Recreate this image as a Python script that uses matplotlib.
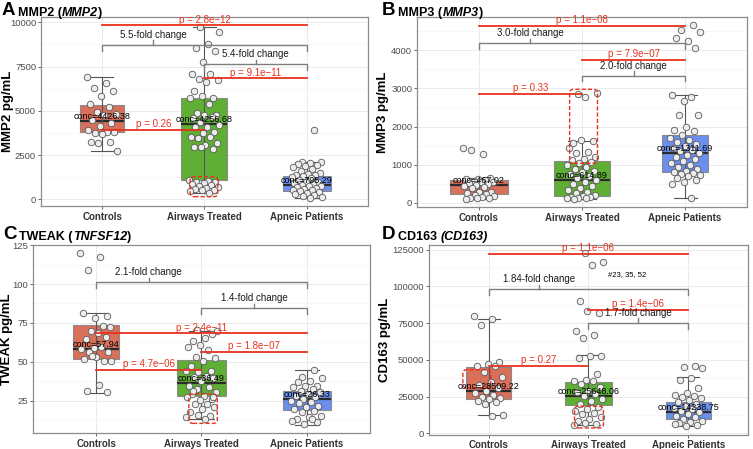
import matplotlib
matplotlib.use("Agg")
import matplotlib.pyplot as plt
import numpy as np
from matplotlib.patches import FancyBboxPatch
from matplotlib.ticker import MultipleLocator

plt.rcParams['font.family'] = ['Liberation Sans', 'DejaVu Sans']

groups = ["Controls", "Airways Treated", "Apneic Patients"]
box_colors = ["#D9705A", "#5EAF34", "#6B8FEF"]

# ---- Panel A: MMP2 ----
mmp2_controls = [6900, 6590, 6310, 6140, 5860, 5370, 5230, 4950, 4800, 4760, 4480, 4330,
                 4140, 3920, 3820, 3770, 3820, 3670, 3260, 3260, 3160, 2750]
mmp2_airways = [9750, 9470, 8750, 8570, 8380, 7780, 7080, 7060, 6820, 6740, 6650, 6100,
                5740, 5840, 5710, 5370, 4860, 4760, 4760, 4580, 4670, 4390, 4200, 4070,
                4100, 3820, 3730, 3540, 3540, 3480, 3200, 3070, 2980, 2840, 2940,
                1100, 1050, 1000, 950, 900, 850, 800, 750, 700, 650, 600, 550, 500, 450, 350]
mmp2_apneic = [3900, 2130, 2100, 2050, 2000, 1950, 1900, 1800, 1700, 1600, 1500, 1450, 1400,
               1350, 1300, 1250, 1200, 1100, 1000, 950, 900, 850, 800, 780, 750, 700, 650,
               600, 550, 500, 450, 400, 350, 300, 250, 200, 150, 100]
mmp2_q1 = [3830, 1100, 490]
mmp2_med = [4426.38, 4256.68, 795.29]
mmp2_q3 = [5350, 5700, 1340]
mmp2_lo = [2750, 380, 60]
mmp2_hi = [6900, 9750, 2130]

# ---- Panel B: MMP3 ----
mmp3_controls = [1450, 1283, 1388, 650, 640, 620, 600, 580, 560, 550, 520, 500, 480, 450,
                 420, 400, 300, 280, 250, 230, 200, 180, 150, 140, 130, 120, 110]
mmp3_airways = [2855, 2873, 2767, 1580, 1615, 1650, 1432, 1345, 1300, 1213, 1144, 1126, 1083,
                1050, 1000, 950, 900, 850, 800, 750, 700, 650, 600, 550, 500, 450, 400,
                350, 300, 250, 200, 180, 160, 150, 140, 130, 120, 110]
mmp3_apneic = [4662, 4531, 4470, 4234, 4313, 4052, 2680, 2828, 2767, 2305, 2305, 2000, 1910,
               1886, 1780, 1700, 1650, 1600, 1550, 1500, 1450, 1400, 1350, 1300, 1250, 1200,
               1150, 1100, 1050, 1000, 950, 900, 850, 800, 780, 750, 720, 700, 650, 600, 550,
               500, 140]
mmp3_q1 = [230, 190, 800]
mmp3_med = [467.02, 614.89, 1311.69]
mmp3_q3 = [600, 1110, 1780]
mmp3_lo = [110, 110, 140]
mmp3_hi = [650, 1633, 2820]

# ---- Panel C: TWEAK ----
tweak_controls = [119.9, 117.6, 109.2, 79.6, 78.1, 81.1, 73.2, 70.0, 72.1, 68.3, 64.6, 65.7,
                  58.9, 58.2, 59.3, 56.1, 56.1, 52.9, 51.8, 50.7, 53.9, 50.7, 35.1, 31.4, 30.4]
tweak_airways = [70.4, 70.0, 65.1, 63.1, 67.9, 61.0, 59.3, 57.6, 52.9, 52.4, 50.7, 47.5, 44.3,
                 43.2, 44.3, 41.1, 40.0, 39.6, 37.9, 34.6, 33.6, 32.5, 30.4, 28.2, 29.3, 26.1,
                 25.4, 27.1, 22.9, 22.9, 21.1, 19.6, 17.5, 15.4, 16.0, 14.3, 13.2, 31.0, 27.5]
tweak_apneic = [44.9, 40.0, 39.4, 37.9, 36.8, 34.6, 34.6, 33.6, 32.5, 31.4, 30.4, 29.3, 28.2,
                27.1, 26.1, 25.0, 23.9, 23.3, 21.8, 21.1, 19.6, 18.6, 17.5, 15.4, 14.7, 13.2,
                11.1, 10.0, 12.1, 13.2]
tweak_q1 = [51.8, 28.0, 19.0]
tweak_med = [57.94, 36.49, 26.33]
tweak_q3 = [73.8, 51.0, 31.0]
tweak_lo = [30.1, 13.2, 9.5]
tweak_hi = [81.1, 70.0, 45.0]

# ---- Panel D: CD163 ----
cd163_controls = [79500, 77500, 73800, 48300, 47200, 46000, 45500, 42000, 38000, 35000, 33000,
                  31000, 29000, 27500, 26000, 25000, 24000, 23000, 22000, 21500, 20000, 12500,
                  12000]
cd163_airways = [123000, 116800, 114500, 89850, 81700, 83000, 69300, 67000, 64700, 52900, 52400,
                 51300, 40400, 36300, 35800, 35400, 33600, 31300, 29000, 27900, 26800, 25600,
                 23400, 22200, 20000, 18200, 16600, 15400, 13600, 13200, 11300, 9800, 8200,
                 6400, 7000, 5900]
cd163_apneic = [46000, 44900, 44200, 37700, 36300, 30900, 27200, 26300, 25600, 24500, 24100,
                22700, 21100, 20000, 18800, 17200, 16600, 15400, 14300, 13200, 12000, 10900,
                9800, 8600, 7500, 6800, 5700, 5200, 6400]
cd163_q1 = [23000, 19500, 10000]
cd163_med = [28509.22, 25648.06, 14238.75]
cd163_q3 = [44800, 35000, 21000]
cd163_lo = [12500, 5900, 5000]
cd163_hi = [77500, 53000, 38000]

# comparisons: (group i, group j, y, label)
mmp2_pvals = [(1, 3, 9830, "p = 2.8e\u221212"), (2, 3, 6835, "p = 9.1e\u221211"), (1, 2, 3917, "p = 0.26")]
mmp2_folds = [(1, 3, 8718, "5.5-fold change"), (2, 3, 7626, "5.4-fold change")]
mmp3_pvals = [(1, 3, 4636, "p = 1.1e\u221208"), (2, 3, 3755, "p = 7.9e\u221207"), (1, 2, 2856, "p = 0.33")]
mmp3_folds = [(1, 3, 4183, "3.0-fold change"), (2, 3, 3335, "2.0-fold change")]
tweak_pvals = [(1, 3, 68.3, "p = 2.4e\u221211"), (2, 3, 56.5, "p = 1.8e\u221207"), (1, 2, 44.9, "p = 4.7e\u221206")]
tweak_folds = [(1, 3, 101.1, "2.1-fold change"), (2, 3, 84.4, "1.4-fold change")]
cd163_pvals = [(1, 3, 122300, "p = 1.1e\u221206"), (2, 3, 84000, "p = 1.4e\u221206"), (1, 2, 45800, "p = 0.27")]
cd163_folds = [(1, 3, 98000, "1.84-fold change"), (2, 3, 75100, "1.7-fold change")]

# highlighted subsets: (x0, x1, y0, y1)
mmp2_boxes = [(1.86, 2.13, 150, 1280)]
mmp3_boxes = [(1.88, 2.15, 1040, 2977)]
tweak_boxes = [(1.88, 2.15, 10.4, 29.3)]
cd163_boxes = [(0.74, 1.02, 30900, 43300), (1.86, 2.15, 3600, 18400)]

RED = "#E8321E"
GRAY = "#7F7F7F"
W, H = 753, 449


def jitter(n, k):
    # deterministic spread of points around the category centre
    return (((np.arange(n) * 0.6180339 + 0.37 * k) % 1.0) - 0.5) * 0.3


def draw_panel(ax, data, q1, med, q3, lo, hi, widths, pvals, folds, boxes,
               ylim, major, ylabel, label_x, letter, letter_xy, name, gene, italic_paren=False):
    stats = []
    for i in range(3):
        stats.append(dict(med=med[i], q1=q1[i], q3=q3[i], whislo=lo[i], whishi=hi[i], fliers=[]))
    bp = ax.bxp(stats, positions=[1, 2, 3], widths=widths, patch_artist=True, showfliers=False,
                capwidths=[w * 0.5 for w in widths],
                boxprops=dict(edgecolor="#8a8a8a", linewidth=0.8),
                medianprops=dict(color="#2b2b2b", linewidth=1.6),
                whiskerprops=dict(color="#555555", linewidth=0.8),
                capprops=dict(color="#555555", linewidth=0.8), zorder=2)
    for patch, c in zip(bp['boxes'], box_colors):
        patch.set_facecolor(c)
    # error bar line running through the box
    ax.vlines([1, 2, 3], q1, q3, color="#555555", linewidth=0.8, zorder=2.5)

    for k, vals in enumerate(data):
        xs = k + 1 + jitter(len(vals), k)
        ax.scatter(xs, vals, s=22, facecolor="#ececec", edgecolor="#5a5a5a",
                   linewidth=0.6, zorder=3)

    for k in range(3):
        ax.text(k + 1, med[k], f"conc={med[k]:.2f}", ha="center", va="bottom",
                fontsize=6.5, color="black", zorder=5)

    span = ylim[1] - ylim[0]
    for a, b, y, lab in pvals:
        ax.plot([a, b], [y, y], color=RED, linewidth=1.3, zorder=4)
        ax.text((a + b) / 2, y + span * 0.004, lab, ha="center", va="bottom",
                fontsize=7, color=RED, zorder=5)
    for a, b, y, lab in folds:
        d = span * 0.03
        ax.plot([a, a, b, b], [y - d, y, y, y - d], color=GRAY, linewidth=1.0, zorder=4)
        ax.plot([a + 0.5, a + 0.5], [y, y + d * 0.8], color=GRAY, linewidth=1.0, zorder=4)
        ax.text(a + 0.5, y + d * 0.9, lab, ha="center", va="bottom",
                fontsize=7, color="#1a1a1a", zorder=5)
    for x0, x1, y0, y1 in boxes:
        r = FancyBboxPatch((x0, y0), x1 - x0, y1 - y0,
                           boxstyle="round,pad=0,rounding_size=0.04",
                           mutation_aspect=span / 3.2 * 1.6,
                           facecolor="none", edgecolor=RED, linestyle=(0, (3, 1.5)),
                           linewidth=1.0, zorder=4)
        ax.add_patch(r)

    ax.set_xlim(0.4, 3.6)
    ax.set_ylim(*ylim)
    ax.set_xticks([1, 2, 3])
    ax.set_xticklabels(groups, fontsize=7, fontweight="bold", color="#333333")
    ax.yaxis.set_major_locator(MultipleLocator(major))
    ax.yaxis.set_minor_locator(MultipleLocator(major / 2))
    ax.tick_params(axis="y", labelsize=6.8, labelcolor="#4d4d4d", color="#4d4d4d",
                   length=2, width=0.6, pad=1.5)
    ax.tick_params(axis="x", color="#4d4d4d", length=2, width=0.6, pad=2)
    ax.tick_params(axis="y", which="minor", length=0)
    ax.grid(True, which="major", color="#ebebeb", linewidth=0.7, zorder=0)
    ax.grid(True, which="minor", axis="y", color="#f4f4f4", linewidth=0.5, zorder=0)
    ax.set_axisbelow(True)
    for s in ax.spines.values():
        s.set_color("#8c8c8c")
        s.set_linewidth(0.9)
    ax.set_ylabel(ylabel, fontsize=9.5, fontweight="bold")
    ax.yaxis.set_label_coords(label_x, 0.5)

    # panel letter and title
    t0 = fig.text(letter_xy[0] / W, 1 - letter_xy[1] / H, letter, fontsize=13.5,
                  fontweight="bold", va="baseline", ha="left")
    if italic_paren:
        t1 = ax.annotate(name + " ", xy=(1, 0), xycoords=t0, xytext=(2, 0),
                         textcoords="offset points", fontsize=9, fontweight="bold",
                         va="bottom", ha="left")
        ax.annotate("(" + gene + ")", xy=(1, 0), xycoords=t1, fontsize=9, fontweight="bold",
                    fontstyle="italic", va="bottom", ha="left")
    else:
        t1 = ax.annotate(name + " (", xy=(1, 0), xycoords=t0, xytext=(2, 0),
                         textcoords="offset points", fontsize=9, fontweight="bold",
                         va="bottom", ha="left")
        t2 = ax.annotate(gene, xy=(1, 0), xycoords=t1, fontsize=9, fontweight="bold",
                         fontstyle="italic", va="bottom", ha="left")
        ax.annotate(")", xy=(1, 0), xycoords=t2, fontsize=9, fontweight="bold",
                    va="bottom", ha="left")


fig = plt.figure(figsize=(7.53, 4.49), dpi=100)
axA = fig.add_axes([0.0544, 0.5412, 0.4343, 0.4209])
axB = fig.add_axes([0.5538, 0.5390, 0.4382, 0.4232])
axC = fig.add_axes([0.0438, 0.0356, 0.4475, 0.4194])
axD = fig.add_axes([0.5697, 0.0319, 0.4236, 0.4232])

draw_panel(axA, [mmp2_controls, mmp2_airways, mmp2_apneic], mmp2_q1, mmp2_med, mmp2_q3,
           mmp2_lo, mmp2_hi, [0.43, 0.45, 0.47], mmp2_pvals, mmp2_folds, mmp2_boxes,
           (-378, 10299), 2500, "MMP2 pg/mL", -0.083, "A", (2, 15), "MMP2", "MMP2")
draw_panel(axB, [mmp3_controls, mmp3_airways, mmp3_apneic], mmp3_q1, mmp3_med, mmp3_q3,
           mmp3_lo, mmp3_hi, [0.56, 0.55, 0.45], mmp3_pvals, mmp3_folds, mmp3_boxes,
           (-105, 4872), 1000, "MMP3 pg/mL", -0.085, "B", (382, 15), "MMP3", "MMP3")
draw_panel(axC, [tweak_controls, tweak_airways, tweak_apneic], tweak_q1, tweak_med, tweak_q3,
           tweak_lo, tweak_hi, [0.44, 0.46, 0.46], tweak_pvals, tweak_folds, tweak_boxes,
           (4.2, 125.3), 25, "TWEAK pg/mL", -0.059, "C", (3, 239), "TWEAK", "TNFSF12")
draw_panel(axD, [cd163_controls, cd163_airways, cd163_apneic], cd163_q1, cd163_med, cd163_q3,
           cd163_lo, cd163_hi, [0.45, 0.47, 0.45], cd163_pvals, cd163_folds, cd163_boxes,
           (-950, 128400), 25000, "CD163 pg/mL", -0.119, "D", (382, 239), "CD163", "CD163",
           italic_paren=True)
axD.text(2.2, 108000, "#23, 35, 52", fontsize=5.5, ha="left", va="center")

fig.savefig("out.png", dpi=100)
